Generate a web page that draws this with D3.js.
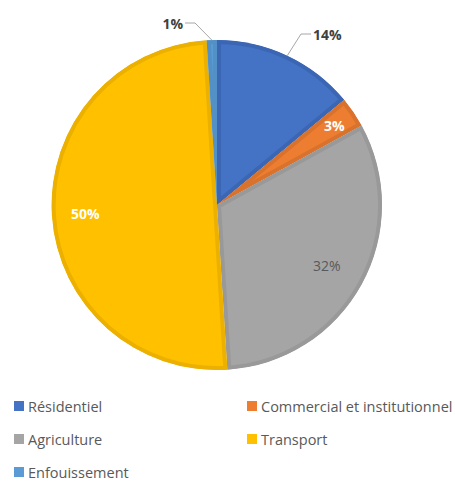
<!DOCTYPE html>
<html>
<head>
<meta charset="utf-8">
<script src="https://cdn.jsdelivr.net/npm/d3@7"></script>
<style>
  body { margin: 0; background: #fff; }
  svg text { font-family: "Open Sans", "Noto Sans", sans-serif; }
</style>
</head>
<body>
<svg id="chart" width="455" height="481"></svg>
<script>
// Émissions par secteur (%)
const categories = ["Résidentiel", "Commercial et institutionnel", "Agriculture", "Transport", "Enfouissement"];
const values = [14, 3, 32, 50, 1];
const fills = ["#4472C4", "#ED7D31", "#A5A5A5", "#FFC000", "#5B9BD5"];
const borders = ["#3B66B4", "#D9722C", "#999999", "#EBB000", "#5390C6"];

const svg = d3.select("#chart");
const cx = 217, cy = 205, r = 165;

const data = categories.map((c, i) => ({ name: c, value: values[i], fill: fills[i], border: borders[i] }));
const pie = d3.pie().value(d => d.value).sort(null);
const arcs = pie(data);
const arc = d3.arc().innerRadius(0).outerRadius(r);

const g = svg.append("g").attr("transform", `translate(${cx},${cy})`);
const defs = svg.append("defs");

arcs.forEach((a, i) => {
  defs.append("clipPath").attr("id", "clip" + i)
    .append("path").attr("d", arc(a));
});

// each slice: fill plus an inset darker rim
g.selectAll("path.slice").data(arcs).join("path")
  .attr("class", "slice")
  .attr("d", arc)
  .attr("fill", d => d.data.fill)
  .attr("stroke", d => d.data.border)
  .attr("stroke-width", 8)
  .attr("stroke-linejoin", "miter")
  .attr("clip-path", (d, i) => `url(#clip${i})`);

// labels placed inside slices
const inside = [
  { i: 1, rr: 0.86, color: "#ffffff", weight: "bold" },
  { i: 2, rr: 0.76, color: "#595959", weight: "normal" },
  { i: 3, rr: 0.80, color: "#ffffff", weight: "bold" }
];
inside.forEach(s => {
  const a = arcs[s.i];
  const c = d3.arc().innerRadius(r * s.rr).outerRadius(r * s.rr).centroid(a);
  g.append("text")
    .attr("x", c[0])
    .attr("y", c[1])
    .attr("text-anchor", "middle")
    .attr("dominant-baseline", "central")
    .attr("font-size", 14)
    .attr("font-weight", s.weight)
    .attr("fill", s.color)
    .text(a.data.value + "%");
});

// outside labels with leader lines
const lineColor = "#a6a6a6";
function outsideLabel(i, elbow, end, anchor) {
  const a = arcs[i];
  const ang = (a.startAngle + a.endAngle) / 2;
  const p0 = [Math.sin(ang) * r, -Math.cos(ang) * r];
  g.append("polyline")
    .attr("points", [p0, elbow, end].map(p => p.join(",")).join(" "))
    .attr("fill", "none")
    .attr("stroke", lineColor)
    .attr("stroke-width", 1);
  g.append("text")
    .attr("x", end[0] + (anchor === "start" ? 2 : -2))
    .attr("y", end[1])
    .attr("text-anchor", anchor)
    .attr("dominant-baseline", "central")
    .attr("font-size", 14)
    .attr("font-weight", "bold")
    .attr("fill", "#404040")
    .text(a.data.value + "%");
}
outsideLabel(0, [301 - cx, 34 - cy], [311 - cx, 34 - cy], "start");
outsideLabel(4, [195 - cx, 23 - cy], [185 - cx, 23 - cy], "end");

// legend
const legendPos = [[14, 406], [247, 406], [14, 439], [247, 439], [14, 472]];
const lg = svg.append("g");
data.forEach((d, i) => {
  const [x, y] = legendPos[i];
  lg.append("rect").attr("x", x).attr("y", y - 5).attr("width", 10).attr("height", 10).attr("fill", d.fill);
  lg.append("text").attr("x", x + 14).attr("y", y)
    .attr("dominant-baseline", "central")
    .attr("font-size", 14.5)
    .attr("fill", "#595959")
    .text(d.name);
});
</script>
</body>
</html>
